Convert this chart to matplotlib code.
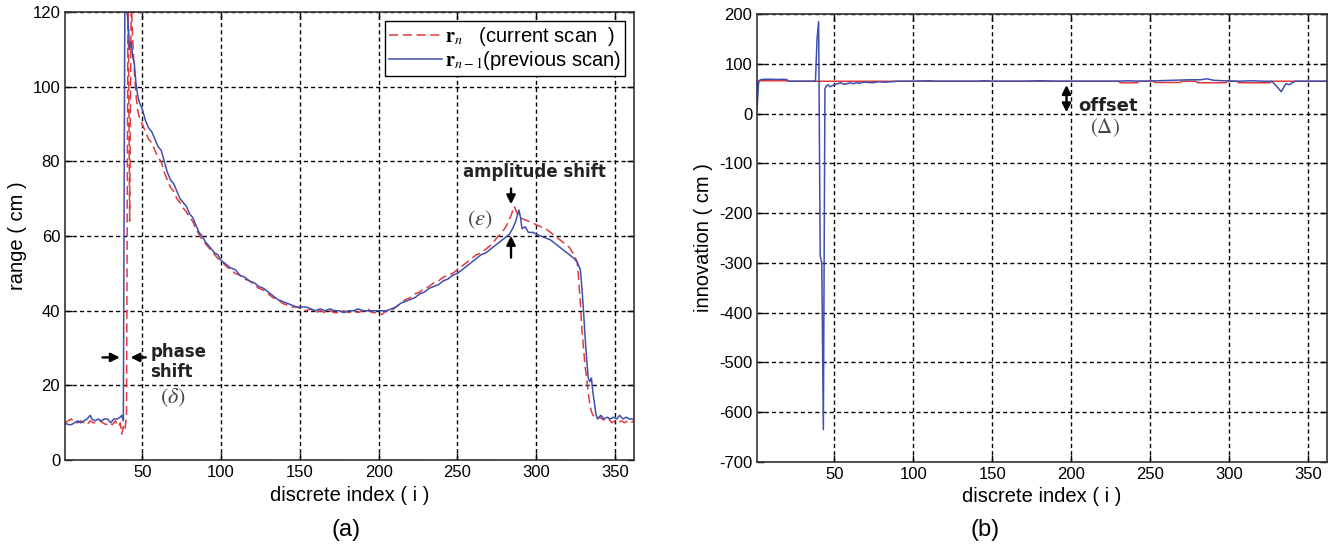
import matplotlib
matplotlib.use('Agg')
import matplotlib.pyplot as plt

plt.rcParams['font.family'] = ['Liberation Sans', 'DejaVu Sans']
plt.rcParams['mathtext.fontset'] = 'stix'
plt.rcParams['axes.unicode_minus'] = False

# ---- (a) range scans ----
prev_i = [1, 3, 5, 7, 9, 11, 13, 15, 17, 18, 20, 22, 24, 26, 28, 30, 32, 34, 36, 37, 38,
          39, 40, 41, 42, 43, 44, 45, 46, 47, 48, 50, 52, 54, 56, 58, 60, 62, 64, 66, 68,
          70, 72, 74, 76, 78, 80, 82, 84, 86, 88, 90, 92, 94, 96, 98, 100, 103, 106, 109,
          112, 115, 118, 121, 124, 127, 130, 133, 136, 139, 142, 145, 148, 151, 154, 157,
          160, 163, 166, 169, 172, 175, 178, 181, 184, 187, 190, 193, 196, 199, 202, 205,
          208, 211, 214, 217, 220, 223, 226, 229, 232, 235, 238, 241, 244, 247, 250, 253,
          256, 259, 262, 265, 268, 271, 274, 277, 280, 283, 285, 287, 289, 290, 291, 293,
          295, 298, 300, 303, 306, 309, 312, 315, 318, 321, 324, 326, 328, 329, 330, 331,
          332, 333, 334, 335, 336, 337, 338, 339, 341, 343, 345, 347, 349, 351, 353, 355,
          357, 359, 362]
prev_r = [10, 9.5, 9.5, 10, 10.5, 10, 10.5, 11, 12, 11, 10.5, 11, 10.5, 11, 11, 10, 11, 11,
          11.5, 12, 10.5,
          128, 122, 117, 110, 112, 108, 106, 101, 98, 96, 94, 91, 89, 88, 86, 84, 83, 80,
          77, 75, 74, 72, 70, 69, 68, 66, 65, 63, 61, 60, 58.5, 57.5, 56.5, 55.5, 55, 53.5,
          52.5, 51.5, 51, 49.5, 49, 48, 47.5, 46.5, 46, 45, 44, 43, 42.5, 42, 41.5, 41, 41,
          41, 40.5, 40, 40.5, 40, 40.5, 40, 40, 39.5, 40, 40, 40.5, 40, 40, 40, 40, 40, 40,
          40.5, 41, 42, 42.5, 43, 43.5, 44.5, 45, 46, 46.5, 47, 48, 48.5, 49.5, 50, 51, 52,
          53, 54, 55, 55.5, 56.5, 57.5, 58.5, 59.5, 60.5, 62, 64, 67, 65, 62, 62.5, 61, 61,
          60.5, 60, 59.5, 59, 58, 57, 56, 55, 54, 53, 51, 46, 40, 33, 27, 22, 21, 22, 18,
          15, 12, 11, 12, 11, 11.5, 11, 11.5, 11, 12, 11, 11.5, 11, 11]

curr_i = [1, 3, 5, 7, 9, 11, 13, 15, 17, 19, 21, 23, 25, 27, 29, 31, 33, 35, 36, 37, 38, 39,
          40, 41, 42, 43, 44, 45, 46, 47, 48, 50, 52, 54, 56, 58, 60, 62, 64, 66, 68, 70,
          72, 74, 76, 78, 80, 82, 84, 86, 88, 90, 92, 94, 96, 98, 100, 103, 106, 109, 112,
          115, 118, 121, 124, 127, 130, 133, 136, 139, 142, 145, 148, 151, 154, 157, 160,
          163, 166, 169, 172, 175, 178, 181, 184, 187, 190, 193, 196, 199, 202, 205, 208,
          211, 214, 217, 220, 223, 226, 229, 232, 235, 238, 241, 244, 247, 250, 253, 256,
          259, 262, 265, 268, 271, 274, 277, 280, 282, 284, 286, 288, 290, 292, 295, 298,
          300, 303, 306, 309, 312, 315, 318, 321, 324, 326, 327, 328, 329, 330, 331, 332,
          333, 334, 335, 336, 338, 340, 342, 344, 346, 348, 350, 352, 354, 356, 358, 360, 362]
curr_r = [10, 10.5, 11, 10, 10, 10.5, 10, 9.5, 10.5, 10, 10, 10.5, 10, 9.5, 10, 9.5, 10.5,
          9, 10, 7, 9, 8,
          12, 128, 64, 124, 112, 104, 98, 94, 92, 90, 88, 86, 85, 83, 81, 80, 77, 75, 73,
          72, 70, 69, 67.5, 66.5, 65, 64, 62, 60.5, 59, 58, 57, 56, 55, 54, 53.5, 52, 51,
          50, 49.5, 48.5, 48, 47, 46, 45.5, 44.5, 43.5, 43, 42, 41.5, 41, 41, 40.5, 40,
          40.5, 39.5, 40, 39.5, 40, 39.5, 39.5, 40, 39.5, 40, 39.5, 40, 40.5, 39.5, 39.5,
          39, 40, 40, 41, 42, 43, 43.5, 44.5, 45, 46, 46.5, 47.5, 48, 49, 49.5, 50, 51, 52,
          53, 54, 55, 55.5, 56.5, 57.5, 59, 60.5, 62, 63.5, 65.5, 68, 66, 65, 64.5, 64,
          63.5, 63, 62.5, 62, 61, 60, 59, 58, 57, 55, 53, 48, 42, 35, 30, 25, 22, 18, 15,
          13, 12, 11, 11.5, 11, 10.5, 11, 10, 10.5, 10, 10.5, 10, 10.5, 10, 10.5]

# ---- (b) innovation ----
innov_prev_i = [1, 2, 3, 6, 10, 14, 18, 20, 21, 25, 30, 35, 38, 39, 40, 41, 42, 43, 44, 45,
                46, 47, 48, 50, 52, 54, 56, 58, 60, 62, 64, 66, 68, 70, 74, 78, 82, 86, 90,
                100, 110, 115, 130, 140, 145, 150, 170, 180, 190, 200, 220, 228, 236, 245,
                255, 265, 275, 282, 286, 290, 296, 305, 315, 322, 327, 330, 333, 335, 336,
                338, 340, 342, 350, 362]
innov_prev = [10, 63, 68, 69, 69, 68.5, 69, 68, 65, 65, 65, 65, 65, 150, 185, -285, -300,
              -635, 50, 56, 58, 54, 55, 58, 60, 62, 59, 60, 62, 60, 62, 61, 63, 63, 62, 64,
              63, 64, 65, 65, 66, 65, 65, 65, 66, 65, 65, 66, 65, 65, 65, 65, 66, 65, 66,
              67, 68, 68, 70, 67, 66, 65, 66, 65, 65, 55, 44, 55, 60, 58, 62, 65, 65, 65]

innov_curr_i = [1, 2, 20, 21, 230, 231, 242, 243, 252, 253, 269, 270, 279, 280, 298, 299,
                305, 306, 326, 327, 362]
innov_curr = [58, 66, 66, 65, 65, 62, 62, 65, 65, 62.5, 62.5, 65, 65, 62, 62, 65, 65, 62,
              62, 65, 65]

red = '#e03a3e'
blue = '#3f4fae'
grid_kw = dict(color='black', linestyle=(0, (3, 2.2)), linewidth=1.0)

fig = plt.figure(figsize=(13.38, 5.51), dpi=100)
ax1 = fig.add_axes([0.0486, 0.165, 0.4252, 0.813])
ax2 = fig.add_axes([0.5658, 0.1615, 0.426, 0.813])

for ax in (ax1, ax2):
    ax.set_xlim(1, 362)
    ax.set_xticks([50, 100, 150, 200, 250, 300, 350])
    ax.grid(True, **grid_kw)
    ax.tick_params(direction='in', top=True, right=True, length=5, labelsize=12,
                   width=1)
    for s in ax.spines.values():
        s.set_color('#333333')
        s.set_linewidth(1.2)
    ax.set_xlabel('discrete index ( i )', fontsize=14.5, labelpad=4)

# (a)
ax1.plot(curr_i, curr_r, color=red, linestyle=(0, (6, 3)), linewidth=1.1,
         label=r'$\mathbf{r}_{n}$   (current scan  )')
ax1.plot(prev_i, prev_r, color=blue, linewidth=1.1,
         label=r'$\mathbf{r}_{n-1}$(previous scan)')
ax1.set_ylim(0, 120)
ax1.set_yticks([0, 20, 40, 60, 80, 100, 120])
ax1.set_ylabel('range ( cm )', fontsize=14.5, labelpad=4)
leg = ax1.legend(loc='upper right', fontsize=14.5, fancybox=False, framealpha=1,
                 edgecolor='black', borderaxespad=0.45, handlelength=2.6,
                 handletextpad=0.15, borderpad=0.2, labelspacing=0.05)
leg.get_frame().set_linewidth(1.0)

arrow_kw = dict(arrowstyle='-|>', color='black', lw=1.7, mutation_scale=13)
ax1.annotate('', xy=(37.5, 27.5), xytext=(23, 27.5), arrowprops=arrow_kw)
ax1.annotate('', xy=(40.8, 27.5), xytext=(54, 27.5), arrowprops=arrow_kw)
ax1.text(55, 26.3, 'phase\nshift', fontsize=12, fontweight='bold', family='DejaVu Sans',
         ha='left', va='center', color='#222222', linespacing=1.15)
ax1.text(69.5, 16.6, r'$(\delta)$', fontsize=16, ha='center', va='center', color='#444444')

ax1.annotate('', xy=(284, 67.8), xytext=(284, 73.5), arrowprops=arrow_kw)
ax1.annotate('', xy=(284, 60.8), xytext=(284, 53.5), arrowprops=arrow_kw)
ax1.text(299, 77.2, 'amplitude shift', fontsize=12, fontweight='bold',
         family='DejaVu Sans', ha='center', va='center', color='#222222')
ax1.text(264, 64.3, r'$(\varepsilon)$', fontsize=16, ha='center', va='center',
         color='#444444')

# (b)
ax2.plot(innov_curr_i, innov_curr, color=red, linewidth=1.1)
ax2.plot(innov_prev_i, innov_prev, color=blue, linewidth=1.1)
ax2.set_ylim(-700, 200)
ax2.set_yticks(list(range(-700, 201, 100)))
ax2.set_ylabel('innovation ( cm )', fontsize=14.5, labelpad=4)
ax2.annotate('', xy=(197, -3), xytext=(197, 63),
             arrowprops=dict(arrowstyle='<|-|>', color='black', lw=1.7, mutation_scale=13))
ax2.text(204.5, 15, 'offset', fontsize=13, fontweight='bold', family='DejaVu Sans',
         ha='left', va='center', color='#222222')
ax2.text(221.5, -29, r'$(\Delta)$', fontsize=15, ha='center', va='center',
         color='#444444')

fig.text(0.2585, 0.038, '(a)', fontsize=17, ha='center', va='center')
fig.text(0.736, 0.038, '(b)', fontsize=17, ha='center', va='center')

fig.savefig('out.png', dpi=100)
